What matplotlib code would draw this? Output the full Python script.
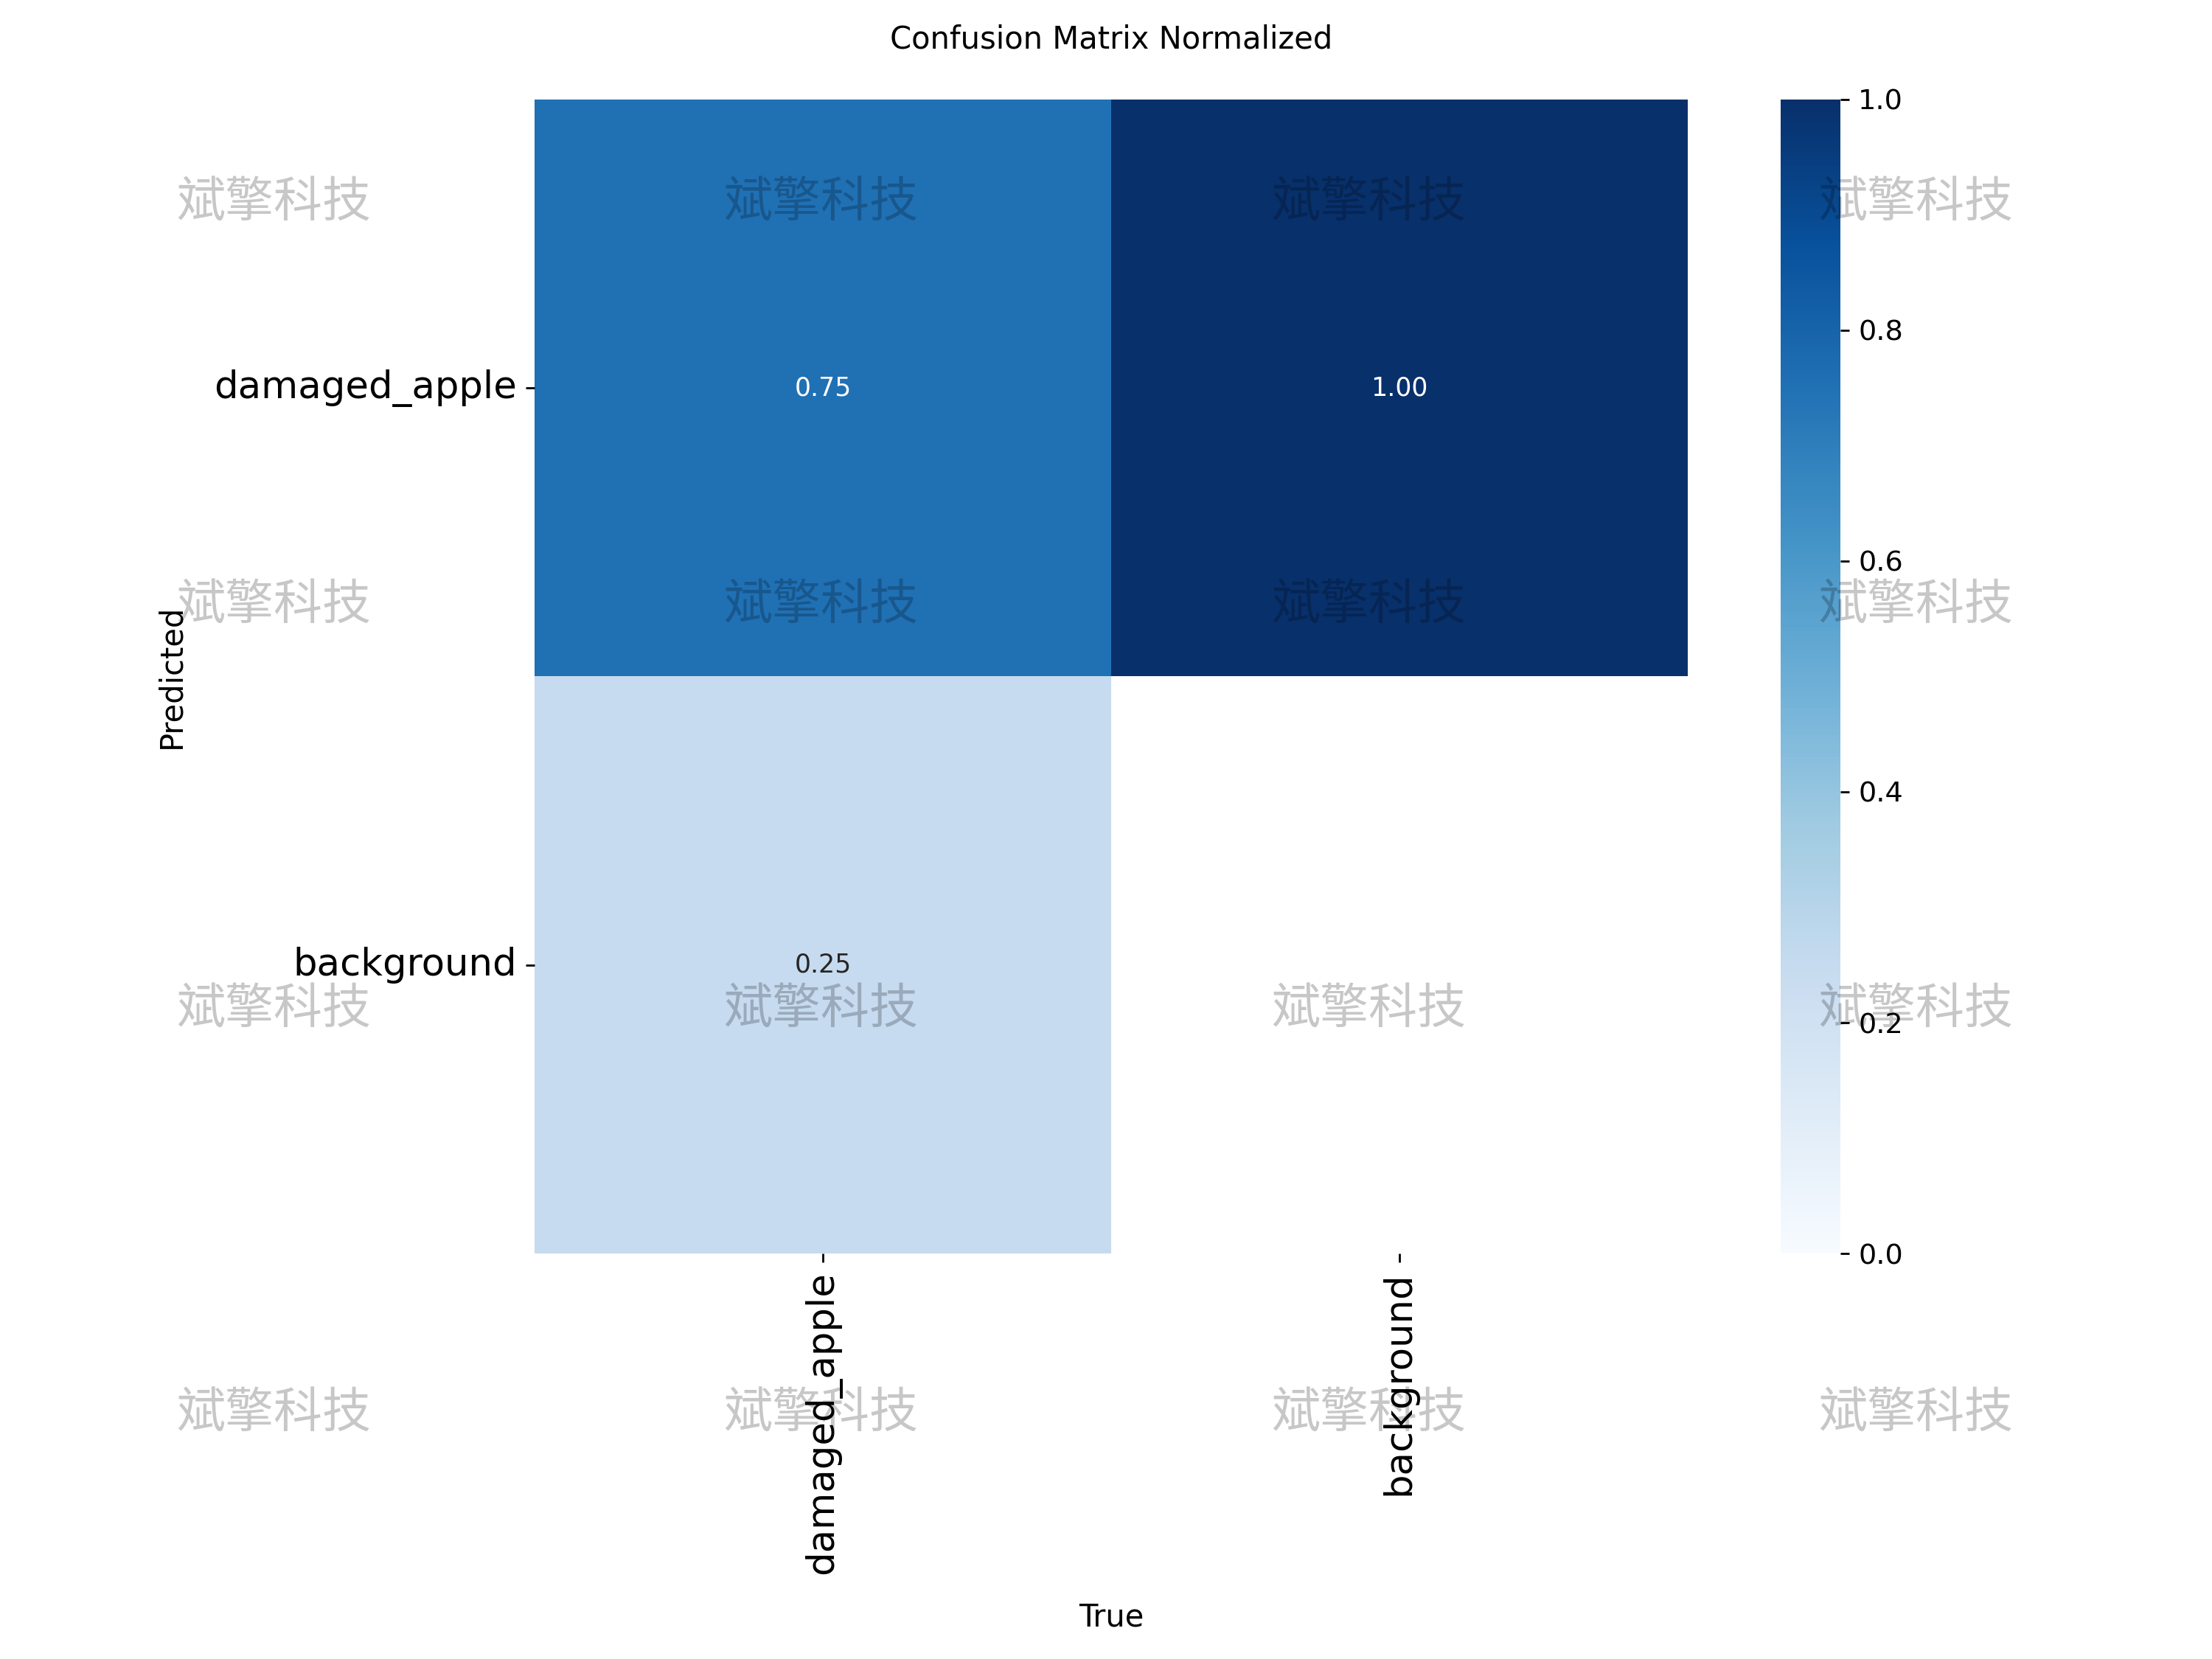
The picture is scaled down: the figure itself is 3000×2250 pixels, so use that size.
import numpy as np
import matplotlib
matplotlib.use('Agg')
from matplotlib import pyplot as plt
import seaborn as sn

# datos de la matriz de confusion (filas = Predicted, columnas = True)
clases = ['damaged_apple', 'background']
fila_damaged = [0.75, 1.00]
fila_background = [0.25, np.nan]   # celda vacia (valor < 0.005)

marca_agua = '斌擎科技'
marca_x = [0.1237, 0.371, 0.6187, 0.866]
marca_y = [0.8778, 0.635, 0.3915, 0.148]

matriz = np.array([fila_damaged, fila_background])

fig = plt.figure(figsize=(12, 9), dpi=250)
ax = fig.add_axes([0.2417, 0.2444, 0.5212, 0.6957])
cax = fig.add_axes([0.8051, 0.2444, 0.0269, 0.6957])

sn.heatmap(matriz, ax=ax, cbar_ax=cax, annot=True, annot_kws={'size': 10},
           cmap='Blues', fmt='.2f', vmin=0.0, vmax=1.0,
           xticklabels=clases, yticklabels=clases)
ax.set_facecolor((1, 1, 1))

ax.tick_params(axis='both', labelsize=14.8)
plt.setp(ax.get_xticklabels(), rotation=90)
plt.setp(ax.get_yticklabels(), rotation=0)
cax.tick_params(labelsize=11)

ax.set_title('Confusion Matrix Normalized', fontsize=12, pad=20)
ax.set_xlabel('True', fontsize=12)
ax.set_ylabel('Predicted', fontsize=12)
ax.xaxis.set_label_coords(0.5, -0.302)
ax.yaxis.set_label_coords(-0.302, 0.5)

# marca de agua repetida encima de todo
for yy in marca_y:
    for xx in marca_x:
        fig.text(xx, yy, marca_agua, fontsize=19, color='k', alpha=0.22,
                 ha='center', va='center', zorder=100,
                 family=['Noto Sans CJK SC', 'DejaVu Sans'])

fig.savefig('out.png', dpi=250)
plt.close(fig)
